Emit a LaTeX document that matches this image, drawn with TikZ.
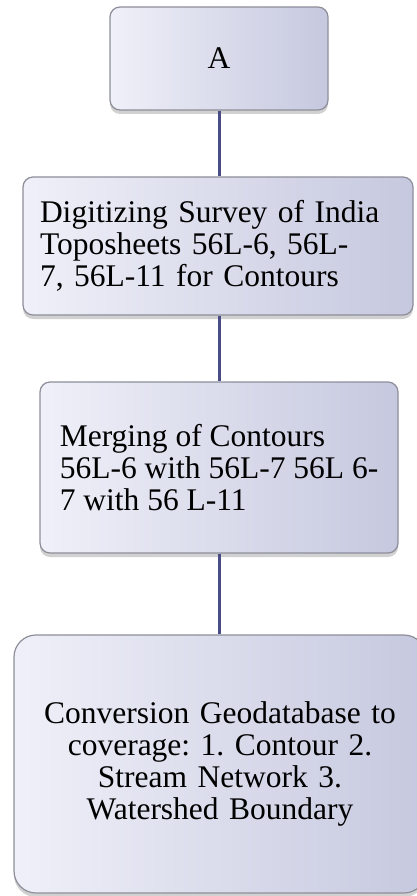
\documentclass[tikz,border=0pt]{standalone}
\usepackage{fontspec}
\setmainfont{Liberation Serif}
\usetikzlibrary{shadows}
\definecolor{boxleft}{HTML}{EFF0F8}
\definecolor{boxright}{HTML}{C6C8DF}
\definecolor{boxline}{HTML}{8E8E9A}
\definecolor{linkblue}{HTML}{4A4D85}
\frenchspacing
\tikzset{stepbox/.style={draw=boxline, line width=1.2pt, rounded corners=10pt, left color=boxleft, right color=boxright, drop shadow={shadow xshift=0pt, shadow yshift=-4pt, opacity=0.3, fill=black!60}, inner sep=0pt, font=\fontsize{31.5}{32}\selectfont}}
\tikzset{link/.style={draw=linkblue, line width=3pt}}

\begin{document}
\begin{tikzpicture}[x=1pt, y=1pt]
  \useasboundingbox (0,0) rectangle (416,-896);
  % boxes
  \node[stepbox, minimum width=218pt, minimum height=103pt] (A) at (219,-58.5) {A};
  \node[stepbox, minimum width=390pt, minimum height=138pt, text width=356pt, align=left] (digit) at (218,-246) {Digitizing Survey of India\\Toposheets 56L-6, 56L-\\7, 56L-11 for Contours};
  \node[stepbox, minimum width=358pt, minimum height=171pt, align=left] (merge) at (219,-467.5) {Merging of Contours\\56L-6 with 56L-7 56L 6-\\7 with 56 L-11};
  \node[stepbox, rounded corners=22pt, minimum width=412pt, minimum height=258pt, text width=390pt, align=center] (convert) at (220,-764) {Conversion Geodatabase to\\coverage: 1. Contour 2.\\Stream Network 3.\\Watershed Boundary};
  % connectors
  \draw[link] (A.south) -- (A.south |- digit.north);
  \draw[link] (digit.south -| A.south) -- (A.south |- merge.north);
  \draw[link] (merge.south -| A.south) -- (A.south |- convert.north);
\end{tikzpicture}
\end{document}
